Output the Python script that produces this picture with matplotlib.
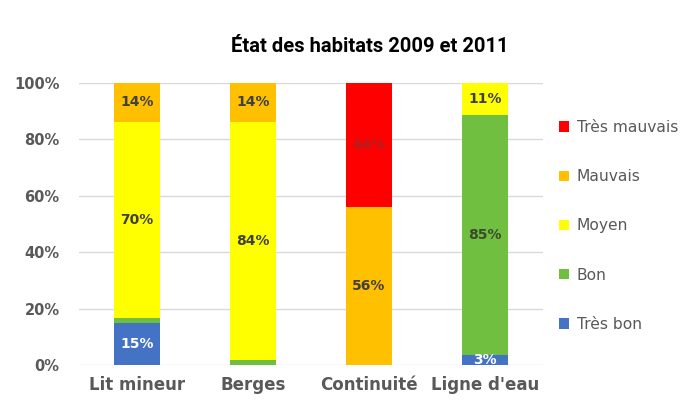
import matplotlib
matplotlib.use("Agg")
import matplotlib.pyplot as plt
import numpy as np

categories = ["Lit mineur", "Berges", "Continuité", "Ligne d'eau"]
series_names = ["Très bon", "Bon", "Moyen", "Mauvais", "Très mauvais"]
tres_bon = [15.0, 0.0, 0.0, 3.4]
bon = [1.5, 1.8, 0.0, 85.4]
moyen = [69.8, 84.4, 0.0, 11.2]
mauvais = [13.7, 13.8, 56.1, 0.0]
tres_mauvais = [0.0, 0.0, 43.9, 0.0]
yticks = [0, 20, 40, 60, 80, 100]
title = "État des habitats 2009 et 2011"

series = [tres_bon, bon, moyen, mauvais, tres_mauvais]
colors = ["#4472C4", "#70BF41", "#FFFF00", "#FFC000", "#FF0000"]
label_colors = ["white", "#3a4a2a", "#404040", "#404040", "#b02020"]

fig = plt.figure(figsize=(6.88, 4.08), dpi=100)
ax = fig.add_axes([0.1148, 0.1054, 0.674, 0.6912])

x = np.arange(len(categories))
bottom = np.zeros(len(categories))
handles = []
for vals, col, lc, name in zip(series, colors, label_colors, series_names):
    v = np.array(vals)
    b = ax.bar(x, v, 0.4, bottom=bottom, color=col, label=name, zorder=3)
    handles.append(b)
    for xi, vi, bi in zip(x, v, bottom):
        if vi >= 2.5:
            ax.text(xi, bi + vi / 2, f"{round(vi):d}%", ha="center", va="center",
                    fontsize=10, fontweight="bold", color=lc, zorder=4)
    bottom += v

ax.set_xlim(-0.5, 3.5)
ax.set_ylim(0, 100)
ax.set_yticks(yticks)
ax.set_yticklabels([f"{t}%" for t in yticks])
ax.set_xticks(x)
ax.set_xticklabels(categories)
ax.grid(axis="y", color="#d9d9d9", linewidth=1, zorder=0)
for s in ax.spines.values():
    s.set_visible(False)
ax.tick_params(axis="y", length=0, pad=14, labelsize=10.5, labelcolor="#595959")
ax.tick_params(axis="x", length=0, pad=8, labelsize=12, labelcolor="#595959")
for lab in ax.get_xticklabels():
    lab.set_fontweight("bold")
for lab in ax.get_yticklabels():
    lab.set_fontweight("bold")

fig.text(370 / 688, 1 - 47 / 408, title, ha="center", va="center",
         fontsize=14.5, fontweight="bold", family="Roboto", color="black")

leg = fig.legend(handles=handles[::-1], labels=series_names[::-1],
                 loc="upper left", bbox_to_anchor=(545 / 688, 1 - 106 / 408),
                 frameon=False, fontsize=11.2, labelspacing=2.2,
                 handlelength=0.65, handleheight=0.65, handletextpad=0.5)
for t in leg.get_texts():
    t.set_color("#595959")

fig.savefig("out.png", dpi=100)
